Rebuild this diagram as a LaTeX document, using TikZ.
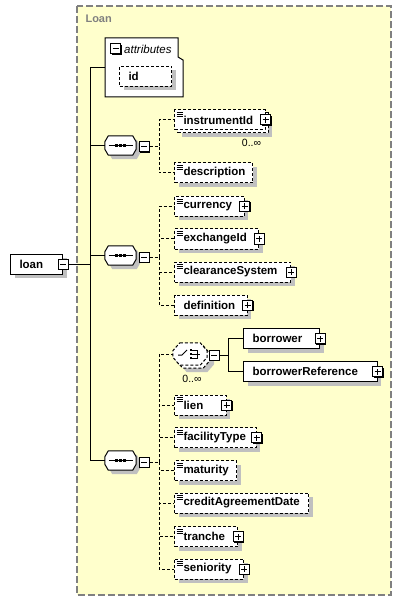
\documentclass[tikz,border=0pt]{standalone}
\usepackage{fontspec}
\setmainfont{Liberation Sans}
\usepackage{xcolor}
\usepackage{tikz}
\usetikzlibrary{shadows,calc,positioning}
\definecolor{loanyellow}{RGB}{255,255,204}
\definecolor{shadowgray}{RGB}{192,192,192}
\definecolor{framegray}{RGB}{128,128,128}
\newcommand\elemfont{\fontsize{11.5}{13}\selectfont\bfseries}
\newcommand\occfont{\fontsize{10.5}{12}\selectfont}
\newcommand\compbox[4]{%
  \draw[#4] ($(#1.north west)+(#2,0)$) -- ($(#1.north east)+(-#2,0)$) -- ($(#1.north east)+(0,#3)$)
    -- ($(#1.south east)+(0,-#3)$) -- ($(#1.south east)+(-#2,0)$) -- ($(#1.south west)+(#2,0)$)
    -- ($(#1.south west)+(0,-#3)$) -- ($(#1.north west)+(0,#3)$) -- cycle;}
\newcommand\seqicon[1]{%
  \draw[line width=1pt] ([xshift=-12pt]#1.center) -- ([xshift=12pt]#1.center);
  \foreach \dx in {-4pt,0pt,4pt}
    \fill ([xshift=\dx]#1.center) +(-1.5pt,-1.5pt) rectangle +(1.5pt,1.5pt);}
\newcommand\choiceicon[1]{%
  \draw[line width=1pt] ([shift={(-12pt,-1pt)}]#1.center) -- ++(4pt,0pt) -- ++(5pt,5pt);
  \foreach \dy in {4pt,0pt,-4pt}
    \fill ([shift={(1pt,\dy)}]#1.center) +(-1.2pt,-1.2pt) rectangle +(1.2pt,1.2pt);
  \draw[line width=1pt] ([shift={(2pt,4pt)}]#1.center) -- ++(5pt,0pt) -- ++(0pt,-8pt) -- ++(-5pt,0pt)
    ([xshift=2pt]#1.center) -- ++(8pt,0pt);}
\tikzset{
  elem/.style = {draw, fill=white, line width=1pt, anchor=west, minimum height=20pt, inner xsep=9pt, inner ysep=0pt, align=left, font=\elemfont},
  optdash/.style = {dash pattern=on 3pt off 2pt},
  optelem/.style = {elem, optdash},
  shd/.style = {drop shadow={shadow xshift=4pt, shadow yshift=-4pt, fill=shadowgray, opacity=1}},
  docicon/.style = {path picture={
    \foreach \dy in {2.5pt,4.5pt,6.5pt}
      \draw[solid, line width=.7pt] ([xshift=2pt,yshift=-\dy]path picture bounding box.north west) -- ++(6pt,0pt);}},
  pbox/.style = {draw, solid, fill=white, line width=1pt, minimum size=10pt, inner sep=0pt, drop shadow={shadow xshift=1pt, shadow yshift=-1pt, fill=black, opacity=1}},
  plusbox/.style = {pbox, path picture={
    \draw[line width=1pt] ([xshift=-3pt]path picture bounding box.center) -- ++(6pt,0pt)
      ([yshift=-3pt]path picture bounding box.center) -- ++(0pt,6pt);}},
  minusbox/.style = {pbox, path picture={
    \draw[line width=1pt] ([xshift=-3pt]path picture bounding box.center) -- ++(6pt,0pt);}},
  comp/.style = {minimum width=31pt, minimum height=19pt, inner sep=0pt},
  compline/.style = {line width=1pt, fill=white},
  conn/.style = {line width=1pt},
  optconn/.style = {conn, optdash},
  occ/.style = {font=\occfont, inner sep=0pt}
}
\begin{document}
\begin{tikzpicture}[x=1pt,y=-1pt]
\useasboundingbox (0,0) rectangle (402,601);
\draw[framegray, line width=1.2pt, dash pattern=on 7pt off 3pt, fill=loanyellow] (77,6) rectangle (391,595);
\node[anchor=west, text=framegray, font=\fontsize{11}{13}\selectfont\bfseries] (title) at (82,19) {Loan};

% attributes
\draw[line width=1pt, fill=white] (105,38) -- (178,38) -- (178,57) -- (183,60) -- (183,97) -- (105,97) -- cycle;
\node[minusbox] (attrm) at (115.5,49) {};
\node[anchor=west, inner sep=0pt, font=\fontsize{11.5}{13}\selectfont\itshape] (attrlabel) at (124,49) {attributes};
\node[optelem, shd, text width=34pt] (id) at (119,76.5) {id};
\coordinate (attrW) at (105,68);

% root
\node[elem, shd, text width=34pt] (loan) at (10,264) {loan};
\node[minusbox] (loanm) at (loan.east) {};

% sequences
\foreach \s/\y in {seq1/145.5,seq2/255.5,seq3/460.5}{
  \node[comp] (\s) at (120.5,\y) {};
  \compbox{\s}{3.5}{6}{compline, shd}
  \seqicon{\s}
  \node[minusbox] (\s m) at ([shift={(8,1.5)}]\s.east) {};
}

% first sequence
\node[optelem, shd, text width=72.5pt] (instrumentIdBack) at (177,123) {};
\node[optelem, docicon, text width=72.5pt] (instrumentId) at (174,120) {instrumentId};
\node[plusbox] (instrumentIdp) at (instrumentId.east) {};
\node[occ] (instrumentIdOcc) at (251.5,143) {0..∞};
\node[optelem, shd, docicon, text width=60pt] (description) at (174,173) {description};

% second sequence
\node[optelem, shd, docicon, text width=51.5pt] (currency) at (174,206.5) {currency};
\node[plusbox] (currencyp) at (currency.east) {};
\node[optelem, shd, docicon, text width=66pt] (exchangeId) at (174,239) {exchangeId};
\node[plusbox] (exchangeIdp) at (exchangeId.east) {};
\node[optelem, shd, docicon, text width=98pt] (clearanceSystem) at (174,272) {clearanceSystem};
\node[plusbox] (clearanceSystemp) at (clearanceSystem.east) {};
\node[optelem, shd, text width=54.7pt] (definition) at (174,305) {definition};
\node[plusbox] (definitionp) at (definition.east) {};

% third sequence
\node[comp, minimum width=34pt, minimum height=22pt] (choiceBack) at (193,357) {};
\compbox{choiceBack}{7}{8}{compline, optdash, shd}
\node[comp, minimum width=34pt, minimum height=22pt] (choice) at (190,354) {};
\compbox{choice}{7}{8}{compline, optdash}
\choiceicon{choice}
\node[minusbox] (choicem) at (214,355) {};
\node[occ] (choiceOcc) at (192,379) {0..∞};
\node[elem, shd, text width=58pt] (borrower) at (243,338.5) {borrower};
\node[plusbox] (borrowerp) at (borrower.east) {};
\node[elem, shd, text width=115.7pt] (borrowerReference) at (243,371.5) {borrowerReference};
\node[plusbox] (borrowerReferencep) at (borrowerReference.east) {};
\node[optelem, shd, docicon, text width=33.5pt] (lien) at (174,405) {lien};
\node[plusbox] (lienp) at (lien.east) {};
\node[optelem, shd, docicon, text width=63.5pt] (facilityType) at (174,437.5) {facilityType};
\node[plusbox] (facilityTypep) at (facilityType.east) {};
\node[optelem, shd, docicon, text width=44pt] (maturity) at (174,470.5) {maturity};
\node[optelem, shd, docicon, text width=116pt] (creditAgreementDate) at (174,503) {creditAgreementDate};
\node[optelem, shd, docicon, text width=45pt] (tranche) at (174,536.5) {tranche};
\node[plusbox] (tranchep) at (tranche.east) {};
\node[optelem, shd, docicon, text width=51.3pt] (seniority) at (174,569) {seniority};
\node[plusbox] (seniorityp) at (seniority.east) {};

% connectors
\coordinate (spine) at (90,264);
\draw[conn] (loanm.east) -- (spine);
\draw[conn] (spine) |- (attrW);
\draw[conn] (spine) |- (seq1.west);
\draw[conn] (spine) |- (seq2.west);
\draw[conn] (spine) |- (seq3.west);
\coordinate (j1) at (159,147);
\draw[optconn] (seq1m.east) -- (j1) |- (instrumentId.west);
\draw[optconn] (j1) |- (description.west);
\coordinate (j2) at (159,257);
\draw[optconn] (seq2m.east) -- (j2);
\foreach \n in {currency,exchangeId,clearanceSystem,definition}
  \draw[optconn] (j2) |- (\n.west);
\coordinate (j3) at (159,462);
\draw[optconn] (seq3m.east) -- (j3);
\foreach \n in {choice,lien,facilityType,maturity,creditAgreementDate,tranche,seniority}
  \draw[optconn] (j3) |- (\n.west);
\coordinate (j4) at (228,355);
\draw[conn] (choicem.east) -- (j4) |- (borrower.west);
\draw[conn] (j4) |- (borrowerReference.west);
\end{tikzpicture}
\end{document}
